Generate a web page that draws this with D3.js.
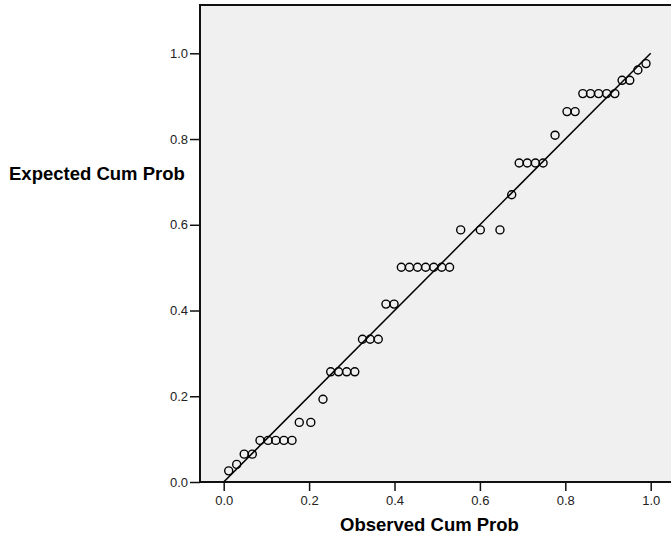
<!DOCTYPE html>
<html>
<head>
<meta charset="utf-8">
<script src="https://cdn.jsdelivr.net/npm/d3@7"></script>
<style>
  body { margin: 0; background: #fff; }
  svg { display: block; font-family: "Liberation Sans", Arial, sans-serif; }
</style>
</head>
<body>
<svg id="pp-plot" width="671" height="539"></svg>
<script>
// P-P plot values
const observedCumProb = [
  0.0117, 0.0304, 0.048, 0.067,
  0.085, 0.104, 0.122, 0.141, 0.160,
  0.177, 0.204, 0.2325,
  0.2506, 0.269, 0.288, 0.307,
  0.325, 0.343, 0.362,
  0.380, 0.399,
  0.416, 0.435, 0.454, 0.473, 0.492, 0.5105, 0.529,
  0.555, 0.601, 0.647, 0.6745,
  0.692, 0.711, 0.730, 0.748,
  0.776, 0.804, 0.823,
  0.841, 0.859, 0.878, 0.897, 0.916,
  0.933, 0.951, 0.970, 0.989
];
const expectedCumProb = [
  0.026, 0.041, 0.065, 0.065,
  0.097, 0.097, 0.097, 0.097, 0.097,
  0.139, 0.139, 0.193,
  0.257, 0.257, 0.257, 0.257,
  0.333, 0.333, 0.333,
  0.415, 0.415,
  0.501, 0.501, 0.501, 0.501, 0.501, 0.501, 0.501,
  0.588, 0.588, 0.588, 0.670,
  0.744, 0.744, 0.744, 0.744,
  0.809, 0.864, 0.864,
  0.906, 0.906, 0.906, 0.906, 0.906,
  0.937, 0.937, 0.961, 0.976
];
const tickValues = [0, 0.2, 0.4, 0.6, 0.8, 1.0];
const refLine = [[0, 0], [1, 1]];

const svg = d3.select('svg#pp-plot');

// frame of the plot area (right edge runs off the picture)
const frame = { left: 200, top: 5, right: 673, bottom: 482 };

const x = d3.scaleLinear().domain([0, 1]).range([223.7, 650.7]);
const y = d3.scaleLinear().domain([0, 1]).range([482, 53.3]);

svg.append('rect')
  .attr('x', frame.left)
  .attr('y', frame.top)
  .attr('width', frame.right - frame.left)
  .attr('height', frame.bottom - frame.top)
  .style('fill', '#f0f0f0')
  .style('stroke', '#111')
  .style('stroke-width', 2);

// reference diagonal
svg.append('path')
  .datum(refLine)
  .attr('d', d3.line().x(d => x(d[0])).y(d => y(d[1])))
  .style('fill', 'none')
  .style('stroke', '#000')
  .style('stroke-width', 1.5);

svg.append('g')
  .selectAll('circle')
  .data(observedCumProb.map((o, i) => [o, expectedCumProb[i]]))
  .join('circle')
  .attr('cx', d => x(d[0]))
  .attr('cy', d => y(d[1]))
  .attr('r', 4)
  .style('fill', 'none')
  .style('stroke', '#000')
  .style('stroke-width', 1.4);

const xAxis = svg.append('g')
  .attr('transform', `translate(0,${frame.bottom})`)
  .call(d3.axisBottom(x).tickValues(tickValues).tickFormat(d3.format('.1f')).tickSize(9).tickSizeOuter(0));
const yAxis = svg.append('g')
  .attr('transform', `translate(${frame.left},0)`)
  .call(d3.axisLeft(y).tickValues(tickValues).tickFormat(d3.format('.1f')).tickSize(10).tickSizeOuter(0));

for (let ax of [xAxis, yAxis]) {
  ax.select('.domain').remove();
  ax.selectAll('line').style('stroke', '#111').style('stroke-width', 1.5);
  ax.selectAll('text')
    .style('font-family', '"Liberation Sans", Arial, sans-serif')
    .style('font-size', '13px')
    .style('fill', '#222');
}
xAxis.selectAll('text').attr('dy', null).attr('y', 23);
yAxis.selectAll('text').attr('x', -12);

svg.append('text')
  .attr('x', 429.5)
  .attr('y', 531)
  .attr('text-anchor', 'middle')
  .style('font-weight', 'bold')
  .style('font-size', '18.5px')
  .text('Observed Cum Prob');

svg.append('text')
  .attr('x', 9)
  .attr('y', 180)
  .style('font-weight', 'bold')
  .style('font-size', '18.5px')
  .text('Expected Cum Prob');
</script>
</body>
</html>
